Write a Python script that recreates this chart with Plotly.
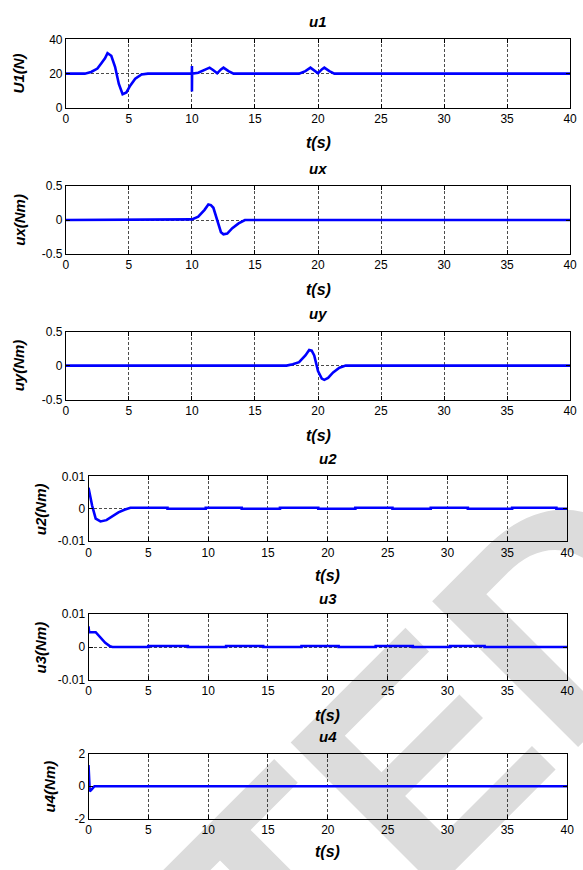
import plotly.graph_objects as go

# ---------------- data ----------------
t_u1 = [0, 1.5, 2.0, 2.5, 2.8, 3.1, 3.3, 3.6, 3.9, 4.2, 4.5, 4.8, 5.1, 5.5, 6.0, 6.5,
        9.99, 10.0, 10.0, 10.01, 10.5, 11.0, 11.4, 11.7, 12.0, 12.3, 12.5, 12.9, 13.3,
        18.5, 19.0, 19.4, 19.7, 20.0, 20.3, 20.5, 20.9, 21.3, 40]
v_u1 = [20, 20, 21, 23, 26, 29, 32, 30.5, 24, 14, 8, 9, 13, 17, 19.5, 20,
        20, 24.5, 9.5, 20, 20.5, 22, 23.5, 22, 20.2, 22.5, 23.5, 21.5, 20,
        20, 21.5, 23.5, 22, 20.2, 22.5, 23.5, 21.5, 20, 20]

t_ux = [0, 7.9, 8.0, 10.0, 10.5, 11.0, 11.3, 11.5, 11.7, 12.0, 12.3, 12.5, 12.8, 13.2, 13.7, 14.2, 40]
v_ux = [0, 0, 0.01, 0.01, 0.05, 0.15, 0.23, 0.22, 0.18, -0.02, -0.18, -0.21, -0.2, -0.12, -0.05, 0, 0]

t_uy = [0, 17.5, 18.0, 18.5, 19.0, 19.3, 19.5, 19.7, 20.0, 20.3, 20.5, 20.8, 21.2, 21.7, 22.2, 40]
v_uy = [0, 0, 0.02, 0.05, 0.15, 0.23, 0.22, 0.15, -0.08, -0.19, -0.21, -0.18, -0.1, -0.03, 0, 0]

t_u2 = [0, 0.3, 0.6, 1.0, 1.5, 2.0, 2.5, 3.0, 3.5,
        6.6, 6.6, 9.8, 9.8, 12.8, 12.8, 16.0, 16.0, 19.2, 19.2, 22.3, 22.3,
        25.4, 25.4, 28.6, 28.6, 31.7, 31.7, 35.4, 35.4, 39.1, 39.1, 40]
v_u2 = [0.0065, 0.0010, -0.0030, -0.0039, -0.0035, -0.0023, -0.0011, -0.0003, 0.0003,
        0.0003, 0.0, 0.0, 0.0003, 0.0003, 0.0, 0.0, 0.0003, 0.0003, 0.0, 0.0, 0.0003,
        0.0003, 0.0, 0.0, 0.0003, 0.0003, 0.0, 0.0, 0.0003, 0.0003, 0.0, 0.0]

t_u3 = [0, 0.05, 0.6, 1.0, 1.4, 1.8, 2.0,
        5.0, 5.0, 8.3, 8.3, 11.5, 11.5, 14.6, 14.6, 17.8, 17.8, 20.9, 20.9,
        24.0, 24.0, 27.1, 27.1, 30.2, 30.2, 33.1, 33.1, 40]
v_u3 = [0.0063, 0.0045, 0.0045, 0.0030, 0.0013, 0.0002, 0.0,
        0.0, 0.0003, 0.0003, 0.0, 0.0, 0.0003, 0.0003, 0.0, 0.0, 0.0003, 0.0003, 0.0,
        0.0, 0.0003, 0.0003, 0.0, 0.0, 0.0003, 0.0003, 0.0, 0.0]

t_u4 = [0, 0.05, 0.1, 0.2, 0.35, 0.5, 40]
v_u4 = [1.3, -0.2, -0.3, -0.25, -0.1, 0, 0]

series_t = [t_u1, t_ux, t_uy, t_u2, t_u3, t_u4]
series_v = [v_u1, v_ux, v_uy, v_u2, v_u3, v_u4]
titles = ["u1", "ux", "uy", "u2", "u3", "u4"]
ylabels = ["U1(N)", "ux(Nm)", "uy(Nm)", "u2(Nm)", "u3(Nm)", "u4(Nm)"]
xlabel = "t(s)"
x_ticks = [0, 5, 10, 15, 20, 25, 30, 35, 40]
y_ranges = [[0, 40], [-0.5, 0.5], [-0.5, 0.5], [-0.01, 0.01], [-0.01, 0.01], [-2, 2]]
y_tickvals = [[0, 20, 40], [-0.5, 0, 0.5], [-0.5, 0, 0.5], [-0.01, 0, 0.01], [-0.01, 0, 0.01], [-2, 0, 2]]
y_ticktext = [["0", "20", "40"], ["-0.5", "0", "0.5"], ["-0.5", "0", "0.5"],
              ["-0.01", "0", "0.01"], ["-0.01", "0", "0.01"], ["-2", "0", "2"]]
watermark = "ACCEPTED"

# ---------------- layout geometry (pixels) ----------------
W, H = 583, 870
boxes = [(64, 577, 33, 102.5), (64, 577, 182, 251), (64, 577, 330, 399),
         (87, 574, 477, 543), (87, 574, 617, 684), (87, 574, 759, 825)]
title_y = [15, 164, 312, 459, 601, 741]
xlab_y = [138, 287, 435, 578, 720, 858]
ylab_x = [16, 16, 16, 38, 38, 47]

def fx(p):
    return p / W

def fy(p):
    return 1 - p / H

FONT = "Liberation Sans, Arial, sans-serif"
fig = go.Figure()
layout = dict(
    width=W, height=H,
    margin=dict(l=0, r=0, t=0, b=0),
    paper_bgcolor="white", plot_bgcolor="rgba(0,0,0,0)",
    showlegend=False,
    font=dict(family=FONT, size=12, color="black"),
)
annotations = []
for i in range(6):
    n = "" if i == 0 else str(i + 1)
    x0, x1, y0, y1 = boxes[i]
    fig.add_trace(go.Scatter(x=series_t[i], y=series_v[i], mode="lines",
                             line=dict(color="#0000FF", width=2.6),
                             xaxis="x" + n, yaxis="y" + n, hoverinfo="skip"))
    common = dict(showline=True, linecolor="black", linewidth=1, mirror="ticks",
                  ticks="inside", ticklen=4, tickcolor="black",
                  showgrid=True, gridcolor="black", gridwidth=0.7, griddash="3px,2px",
                  zeroline=False, tickfont=dict(family=FONT, size=12, color="black"))
    layout["xaxis" + n] = dict(domain=[fx(x0), fx(x1)], anchor="y" + n, range=[0, 40],
                               tickvals=x_ticks, ticktext=[str(v) for v in x_ticks], **common)
    layout["yaxis" + n] = dict(domain=[fy(y1), fy(y0)], anchor="x" + n, range=y_ranges[i],
                               tickvals=y_tickvals[i], ticktext=y_ticktext[i], **common)
    cx = (x0 + x1) / 2
    annotations.append(dict(text=titles[i], x=fx(cx), y=fy(title_y[i]), xref="paper", yref="paper",
                            showarrow=False, xanchor="center", yanchor="middle",
                            font=dict(family=FONT, size=15, weight="bold", style="italic")))
    annotations.append(dict(text=xlabel, x=fx(cx), y=fy(xlab_y[i]), xref="paper", yref="paper",
                            showarrow=False, xanchor="center", yanchor="middle",
                            font=dict(family=FONT, size=16, weight="bold", style="italic")))
    annotations.append(dict(text=ylabels[i], x=fx(ylab_x[i]), y=fy((y0 + y1) / 2), xref="paper",
                            yref="paper", showarrow=False, xanchor="center", yanchor="middle",
                            textangle=-90,
                            font=dict(family=FONT, size=15, weight="bold", style="italic")))

layout["annotations"] = annotations
# watermark behind the plots
wx, wy = 38, 1109
layout["shapes"] = [dict(type="rect", xref="paper", yref="paper", layer="below",
                         x0=fx(wx - 1), x1=fx(wx + 1), y0=fy(wy + 1), y1=fy(wy - 1),
                         line=dict(width=0), fillcolor="rgba(0,0,0,0)",
                         label=dict(text=watermark, textangle=-45, textposition="middle center",
                                    font=dict(family=FONT, size=300, weight="bold", color="#dcdcdc")))]
fig.update_layout(**layout)
fig.write_html("out.html", config={"displayModeBar": False, "staticPlot": True},
               post_script="document.body.style.margin='0';document.body.style.overflow='hidden';")
